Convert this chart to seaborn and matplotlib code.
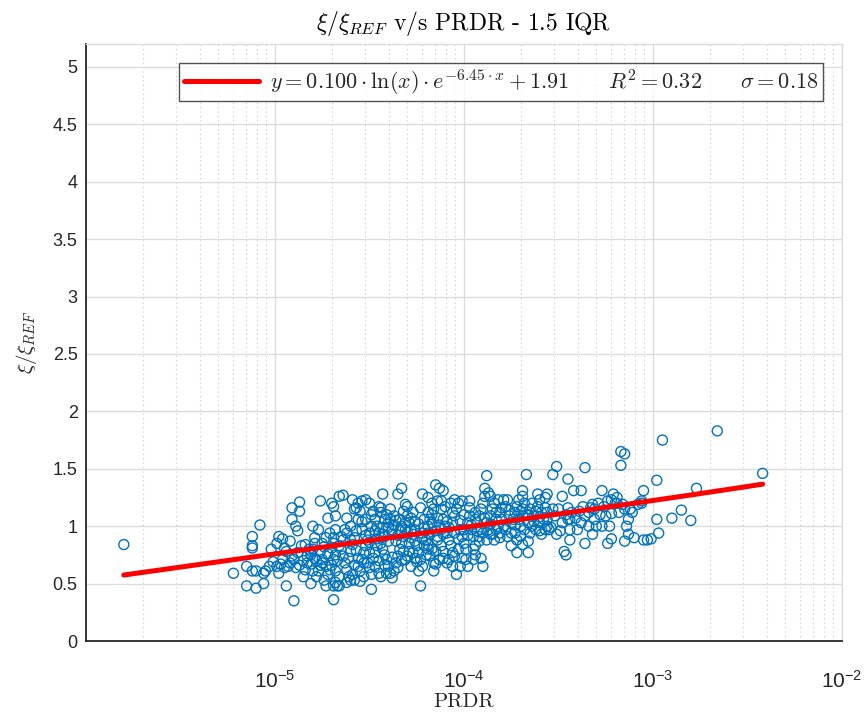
import numpy as np
import pandas as pd
import matplotlib
matplotlib.use("Agg")
import matplotlib.pyplot as plt
import seaborn as sns
from matplotlib.ticker import FixedLocator, LogLocator, NullFormatter, FixedFormatter

# ---------------- data (log10 of PRDR, xi/xi_REF) ----------------
pts_sparse = [(-5.80,0.84),(-5.22,0.59),(-5.15,0.48),(-5.10,0.46),(-5.06,0.50),(-5.15,0.65),(-5.12,0.61),(-5.10,0.61),
    (-5.08,1.01),(-5.12,0.91),(-5.12,0.83),(-5.12,0.81),(-5.06,0.59),(-5.05,0.61),(-5.02,0.80),(-5.03,0.65),(-5.01,0.69),
    (-4.98,0.91),(-4.96,0.89),(-4.97,0.67),(-4.98,0.59),(-4.94,0.48),(-4.90,0.35),(-4.93,0.65),(-4.92,0.87),(-4.91,1.16),
    (-4.87,1.21),(-4.87,1.13),(-4.91,1.06),(-4.89,1.00),(-4.88,0.96),(-4.86,0.83),(-4.85,0.56),(-4.84,0.62),(-4.81,0.50),
    (-4.83,0.74),(-4.80,0.61),(-4.80,1.00),(-4.79,0.90),(-4.76,1.22),(-4.77,0.97),(-4.76,0.78),(-4.75,0.71),(-4.74,0.53),
    (-4.73,0.48),(-4.72,1.07),(-4.70,1.20),(-4.69,0.36),(-4.69,1.17),(-4.68,1.09),(-4.69,0.90),(-4.66,1.26),(-4.67,0.48),
    (-4.66,0.56),(-4.64,1.27),(-4.62,1.07),(-4.59,1.23),(-4.58,1.15),(-4.60,0.53),(-4.59,0.58),(-4.55,0.52),(-4.49,0.45),
    (-4.52,1.23),(-4.50,1.20),(-4.48,1.13),(-4.43,1.28),(-4.44,1.12),(-4.42,1.06),(-4.35,1.28),(-4.33,1.33),(-4.30,1.17),
    (-4.23,0.48),(-4.22,1.28),(-4.19,1.25),(-4.15,1.36),(-4.13,1.33),(-4.11,1.31),(-4.12,1.22),(-4.16,0.61),(-4.15,0.67),
    (-4.11,0.72),(-4.04,0.58),(-4.01,0.72),(-3.95,0.71),(-3.91,0.72),(-3.90,0.65),(-3.88,1.44),(-3.89,1.33),(-3.87,1.29),
    (-3.92,0.87),(-3.86,0.93),(-3.83,0.97),(-3.79,1.23),(-3.75,0.83),(-3.72,0.77),(-3.66,0.77),(-3.69,1.31),(-3.69,1.26),
    (-3.67,1.45),(-3.60,0.96),(-3.61,1.28),(-3.57,1.25),(-3.56,1.28),(-3.53,1.45),(-3.51,1.52),(-3.48,1.26),(-3.45,1.41),
    (-3.45,1.16),(-3.45,1.06),(-3.47,0.78),(-3.46,0.75),(-3.44,0.88),(-3.42,1.31),(-3.38,1.31),(-3.36,1.51),(-3.36,0.85),
    (-3.32,0.93),(-3.37,1.17),(-3.34,1.12),(-3.29,1.20),(-3.27,1.31),(-3.24,0.85),(-3.22,0.89),(-3.22,1.11),(-3.23,1.00),
    (-3.21,1.28),(-3.19,1.25),(-3.17,1.53),(-3.17,1.65),(-3.15,1.63),(-3.15,1.15),(-3.14,1.00),(-3.13,0.93),(-3.15,0.87),
    (-3.10,0.90),(-3.06,1.20),(-3.05,1.31),(-3.05,0.88),(-3.03,0.88),(-2.98,1.40),(-2.98,1.06),(-2.97,0.94),(-3.01,0.89),
    (-2.95,1.75),(-2.90,1.07),(-2.85,1.14),(-2.80,1.05),(-2.77,1.33),(-2.66,1.83),(-2.42,1.46)]

pts_core_a = [(-4.99,0.85),(-4.95,0.81),(-4.94,0.78),(-4.96,0.71),(-4.92,0.68),(-4.89,0.64),(-4.95,0.64),(-4.99,0.65),
    (-4.88,0.77),(-4.91,0.74),
    (-4.84,0.84),(-4.82,0.80),(-4.81,0.75),(-4.79,0.72),(-4.75,0.68),(-4.73,0.65),(-4.71,0.62),(-4.77,0.61),(-4.81,0.67),
    (-4.69,0.71),(-4.68,0.75),(-4.70,0.81),(-4.75,0.85),(-4.73,0.90),(-4.69,0.85),(-4.71,0.94),(-4.68,0.97),(-4.79,0.85),
    (-4.81,0.78),(-4.83,0.68),(-4.78,0.56),(-4.68,0.61),(-4.72,0.58),(-4.68,0.51),(-4.66,0.48),(-4.69,0.48)]

pts_core_b = [(-4.65,0.80),(-4.64,0.74),(-4.63,0.68),(-4.62,0.62),(-4.61,0.56),(-4.60,0.78),(-4.59,0.84),(-4.58,0.90),
    (-4.57,0.96),(-4.56,0.72),(-4.56,0.65),(-4.55,0.61),(-4.54,0.71),(-4.53,0.77),(-4.52,0.83),(-4.51,0.88),(-4.50,0.94),
    (-4.49,1.00),(-4.52,1.06),(-4.55,1.13),(-4.57,1.16),(-4.60,1.00),(-4.62,0.94),(-4.64,0.88),(-4.66,0.83),(-4.56,1.06),
    (-4.54,0.97),(-4.51,0.68),(-4.50,0.64),(-4.49,0.58),(-4.53,0.56),(-4.58,0.53),(-4.62,0.51),(-4.56,1.20),(-4.54,1.22),
    (-4.49,1.10),(-4.50,0.77),(-4.48,0.72)]

pts_core_c = [(-4.47,1.06),(-4.46,1.00),(-4.45,0.94),(-4.44,0.90),(-4.44,0.85),(-4.43,0.80),(-4.42,0.75),(-4.41,0.71),
    (-4.40,0.65),(-4.39,0.59),(-4.38,0.55),(-4.37,0.61),(-4.36,0.68),(-4.35,0.74),(-4.34,0.80),(-4.33,0.85),(-4.32,0.91),
    (-4.31,0.97),(-4.31,1.03),(-4.45,1.17),(-4.44,1.16),(-4.41,1.10),(-4.39,1.15),(-4.37,1.09),(-4.34,1.06),(-4.32,1.13),
    (-4.31,1.19),(-4.47,0.65),(-4.45,0.59),(-4.44,0.56),(-4.42,0.91),(-4.40,0.99),(-4.38,0.93),(-4.36,0.87),(-4.34,0.96),
    (-4.32,0.78),(-4.31,0.71),(-4.35,0.64),(-4.41,0.59),(-4.46,0.83),(-4.39,1.06),(-4.37,1.01)]

pts_core_d = [(-4.30,1.09),(-4.29,1.03),(-4.28,0.97),(-4.27,0.93),(-4.26,0.87),(-4.25,0.83),(-4.24,0.77),(-4.23,0.71),
    (-4.22,0.65),(-4.21,0.83),(-4.20,0.88),(-4.19,0.94),(-4.19,1.00),(-4.18,1.06),(-4.17,1.10),(-4.16,1.15),(-4.14,1.07),
    (-4.13,1.01),(-4.12,0.97),(-4.29,0.85),(-4.27,0.77),(-4.25,0.69),(-4.28,0.65),(-4.24,0.61),(-4.21,1.06),(-4.19,0.80),
    (-4.18,0.74),(-4.16,0.68),(-4.14,0.88),(-4.12,0.83),(-4.27,1.12),(-4.23,1.16),(-4.19,1.12),(-4.17,1.20),(-4.14,1.22),
    (-4.12,1.15),(-4.26,1.04),(-4.22,0.94),(-4.19,0.84),(-4.15,0.78),(-4.30,0.74),(-4.13,0.71)]

pts_core_e = [(-4.11,1.06),(-4.10,1.00),(-4.09,0.94),(-4.08,0.88),(-4.07,0.83),(-4.06,0.77),(-4.06,1.03),(-4.05,1.09),
    (-4.04,1.15),(-4.03,1.20),(-4.02,0.97),(-4.01,0.91),(-4.00,0.85),(-3.99,0.80),(-3.98,1.03),(-3.97,1.09),(-3.96,0.97),
    (-3.95,0.91),(-3.94,1.06),(-3.94,1.12),(-4.10,1.17),(-4.07,1.20),(-4.05,1.23),(-4.01,1.22),(-3.97,1.22),(-4.08,0.71),
    (-4.05,0.74),(-4.03,0.80),(-3.99,0.71),(-3.95,0.80),(-3.94,0.83),(-4.11,0.78),(-4.09,0.68),(-4.06,0.65),(-4.02,0.65),
    (-3.98,0.65),(-3.94,0.75),(-3.97,1.16),(-4.00,1.10),(-4.06,1.12)]

pts_core_f = [(-3.93,1.03),(-3.92,1.09),(-3.91,1.15),(-3.90,1.20),(-3.89,1.26),(-3.88,1.03),(-3.87,0.97),(-3.86,1.09),
    (-3.85,1.15),(-3.84,1.20),(-3.83,1.06),(-3.82,1.00),(-3.81,0.94),(-3.81,1.12),(-3.80,1.06),(-3.79,1.00),(-3.78,1.17),
    (-3.77,1.23),(-3.76,1.09),(-3.75,1.03),(-3.92,0.91),(-3.90,0.94),(-3.88,0.88),(-3.84,0.88),(-3.81,0.90),(-3.77,0.91),
    (-3.75,0.94),(-3.82,1.23),(-3.86,1.26),(-3.78,0.97),(-3.91,0.97),(-3.85,0.93)]

pts_core_g = [(-3.74,1.06),(-3.73,1.12),(-3.72,1.17),(-3.71,1.06),(-3.70,1.00),(-3.69,1.09),(-3.69,1.15),(-3.68,1.20),
    (-3.67,1.10),(-3.66,1.03),(-3.65,1.15),(-3.64,1.20),(-3.63,1.09),(-3.62,1.13),(-3.61,1.17),(-3.60,1.03),(-3.59,1.12),
    (-3.58,1.06),(-3.57,1.16),(-3.56,1.00),(-3.73,0.94),(-3.70,0.91),(-3.68,0.97),(-3.65,0.94),(-3.62,0.97),(-3.59,0.93),
    (-3.57,0.97),(-3.72,0.88),(-3.69,0.84),(-3.66,0.87),(-3.64,1.00),(-3.60,1.23),(-3.71,1.23),(-3.56,1.12)]

pts_core_h = [(-3.56,1.06),(-3.55,0.97),(-3.54,0.99),(-3.52,1.09),(-3.50,1.15),(-3.48,1.03),(-3.46,1.10),(-3.44,1.06),
    (-3.43,1.12),(-3.41,1.07),(-3.39,1.13),(-3.51,0.93),(-3.49,0.96),(-3.44,0.97),(-3.40,0.97),(-3.38,1.03),(-3.53,1.15),
    (-3.36,1.09),(-3.33,1.16),(-3.31,1.06),(-3.31,1.15),(-3.28,1.10),(-3.26,1.17),(-3.24,1.22),(-3.22,1.23),(-3.20,1.20),
    (-3.30,1.00),(-3.27,1.00),(-3.34,1.00),(-3.25,1.09),(-3.19,1.20),(-3.32,1.19),
    (-3.18,1.12),(-3.16,1.19),(-3.12,1.15),(-3.08,1.19),(-3.06,1.22),(-3.11,1.12),(-3.13,1.06)]

pts_core_fill = [(-4.54,1.04),(-4.52,0.92),(-4.50,0.86),(-4.47,0.96),(-4.46,0.89),(-4.43,0.99),(-4.43,0.93),(-4.40,1.03),
    (-4.40,0.87),(-4.38,0.97),(-4.36,1.05),(-4.35,0.92),(-4.33,1.00),(-4.30,0.95),(-4.28,1.07),(-4.28,0.90),(-4.26,0.97),
    (-4.24,1.02),(-4.22,0.89),(-4.21,0.99),(-4.18,0.93),(-4.17,1.03),(-4.15,0.96),(-4.14,0.91),(-4.11,0.93),(-4.09,1.04),
    (-4.08,0.99),(-4.05,0.94),(-4.03,0.89),(-4.02,1.05),(-4.00,0.97),(-3.98,0.92),(-3.96,1.01),(-3.93,0.96),(-4.60,0.88),
    (-4.61,0.72),(-4.58,0.66),(-4.57,0.79),(-4.63,0.97),(-4.65,0.91),(-4.67,0.70),(-4.70,0.66),(-4.72,0.76),(-4.74,0.82),
    (-4.76,0.66),(-4.78,0.70),(-4.80,0.80),(-4.85,0.70),(-4.87,0.66),(-4.90,0.71),(-4.53,0.68),(-4.47,0.77),(-4.45,0.70),
    (-4.42,0.66),(-4.38,0.73),(-4.33,0.70),(-4.29,0.78),(-4.26,0.72),(-4.20,0.75),(-4.17,0.80),(-3.89,1.07),(-3.86,1.02),
    (-3.83,1.12),(-3.80,1.16),(-3.76,1.14),(-3.73,1.01),(-3.70,1.13),(-3.66,1.10),(-3.63,1.04),(-3.60,1.08)]

# fit from the legend: y = a * ln(x) * exp(b * x) + c
fit_a = 0.100
fit_b = -6.45
fit_c = 1.91
r_squared = 0.32
sigma = 0.18

y_ticks = [0, 0.5, 1, 1.5, 2, 2.5, 3, 3.5, 4, 4.5, 5]
y_tick_labels = ["0", "0.5", "1", "1.5", "2", "2.5", "3", "3.5", "4", "4.5", "5"]
x_ticks = [1e-5, 1e-4, 1e-3, 1e-2]
x_tick_labels = [r"$\mathregular{10^{-5}}$", r"$\mathregular{10^{-4}}$",
                 r"$\mathregular{10^{-3}}$", r"$\mathregular{10^{-2}}$"]

title_text = r"$\xi/\xi_{REF}$ v/s PRDR - 1.5 IQR"
x_label = "PRDR"
y_label = r"$\xi/\xi_{REF}$"

# ---------------- build frames ----------------
all_pts = (pts_sparse + pts_core_a + pts_core_b + pts_core_c + pts_core_d + pts_core_e + pts_core_f
           + pts_core_g + pts_core_h + pts_core_fill)
df = pd.DataFrame(all_pts, columns=["log_prdr", "xi"])
df["prdr"] = 10.0 ** df["log_prdr"]

fit_x = np.logspace(df["log_prdr"].min(), df["log_prdr"].max(), 200)
fit_y = fit_a * np.log(fit_x) * np.exp(fit_b * fit_x) + fit_c
fit_df = pd.DataFrame({"prdr": fit_x, "fit": fit_y})

# ---------------- style ----------------
sns.set_style("white")
plt.rcParams["font.family"] = ["Liberation Sans", "DejaVu Sans"]
plt.rcParams["mathtext.fontset"] = "cm"

fig = plt.figure(figsize=(8.64, 7.13), dpi=100)
ax = fig.add_axes([86 / 864, 1 - 641 / 713, (842 - 86) / 864, (641 - 44) / 713])

blue = "#0072BD"
sns.scatterplot(data=df, x="prdr", y="xi", ax=ax, marker="o", s=52,
                facecolors="none", edgecolor=blue, linewidth=1.0, zorder=3)
legend_label = (r"$y = %.3f \cdot \ln(x) \cdot e^{%.2f \cdot x} + %.2f \quad\quad R^2 = %.2f \quad\quad \sigma = %.2f$"
                % (fit_a, fit_b, fit_c, r_squared, sigma))
sns.lineplot(data=fit_df, x="prdr", y="fit", ax=ax, color="#FF0000", linewidth=3.6,
             label=legend_label, zorder=4, sort=False)

ax.set_xscale("log")
ax.set_xlim(1e-6, 1e-2)
ax.set_ylim(0, 5.2)

ax.xaxis.set_major_locator(FixedLocator(x_ticks))
ax.xaxis.set_major_formatter(FixedFormatter(x_tick_labels))
ax.xaxis.set_minor_locator(LogLocator(base=10, subs=np.arange(2, 10), numticks=20))
ax.xaxis.set_minor_formatter(NullFormatter())
ax.yaxis.set_major_locator(FixedLocator(y_ticks))
ax.yaxis.set_major_formatter(FixedFormatter(y_tick_labels))

ax.grid(True, which="major", color="#dcdcdc", linewidth=1.0, linestyle="-", zorder=0)
ax.grid(True, which="minor", axis="x", color="#c8c8c8", linewidth=0.8, linestyle=(0, (1, 3)), zorder=0)
ax.set_axisbelow(True)

for side in ["left", "bottom"]:
    ax.spines[side].set_color("#262626")
    ax.spines[side].set_linewidth(1.3)
for side in ["top", "right"]:
    ax.spines[side].set_color("#dcdcdc")
    ax.spines[side].set_linewidth(1.0)

ax.tick_params(axis="both", which="major", direction="in", length=5, width=1.1, color="#262626",
               labelsize=13, labelcolor="#262626", top=False, right=False, pad=6)
ax.tick_params(axis="x", which="minor", direction="in", length=3, width=0.9, color="#262626", top=False)
ax.tick_params(axis="x", which="major", labelsize=15, pad=21)

ax.set_title(title_text, fontfamily="cmr10", fontsize=17, color="#000000", pad=10)
ax.set_xlabel(x_label, fontfamily="cmr10", fontsize=15, color="#262626", labelpad=1)
ax.set_ylabel(y_label, fontsize=15, color="#262626")
ax.yaxis.set_label_coords(-0.062, 0.5)

leg = ax.legend(loc="upper right", fontsize=16, frameon=True, fancybox=False, handlelength=3.4,
                borderaxespad=0.85, borderpad=0.2, handletextpad=0.5)
leg.get_frame().set_edgecolor("#262626")
leg.get_frame().set_linewidth(1.0)

fig.savefig("out.png", dpi=100)
